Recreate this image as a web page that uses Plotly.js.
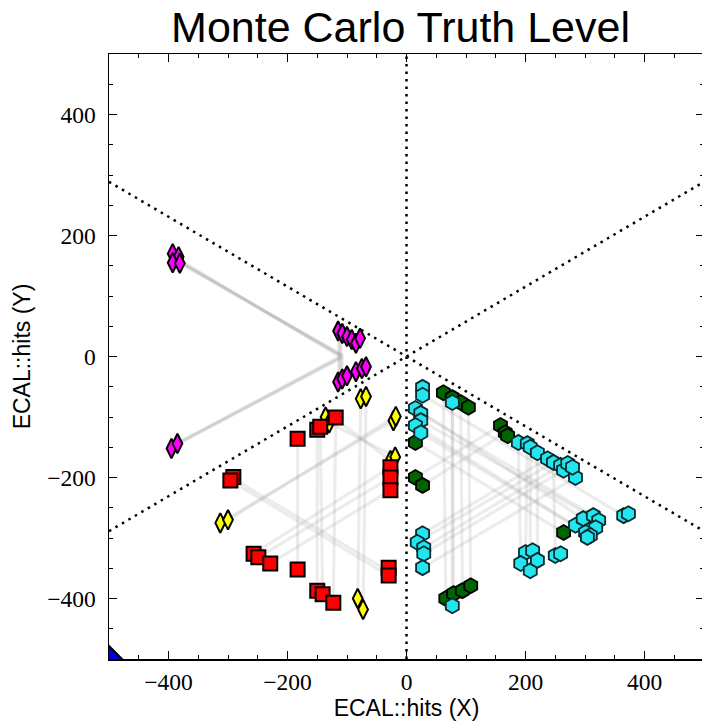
<!DOCTYPE html>
<html>
<head>
<meta charset="utf-8">
<script src="https://cdn.plot.ly/plotly-3.0.1.min.js"></script>
<style>
  html, body { margin: 0; padding: 0; overflow: hidden; background: #fff; }
  #chart { width: 704px; height: 722px; }
</style>
</head>
<body>
<div id="chart"></div>
<script>
// ---- hits per particle species (ECAL x / y positions) ----
const magentaX = [-393, -383, -393, -381, -395, -385, -115, -108, -100, -92, -85, -78, -115, -108, -100, -85, -75, -68];
const magentaY = [170, 165, 155, 154, -152, -144, 42, 38, 33, 28, 22, 30, -42, -37, -32, -25, -20, -17];

const yellowX = [-77, -68, -136, -130, -22, -18, -27, -19, -313, -300, -82, -73];
const yellowY = [-70, -66, -100, -110, -106, -99, -172, -166, -275, -270, -400, -418];

const redX = [-183, -150, -145, -119, -291, -296, -257, -249, -229, -183, -150, -141, -123, -27, -27, -27, -30, -30];
const redY = [-136, -121, -116, -101, -199, -205, -326, -332, -342, -352, -387, -393, -407, -183, -200, -221, -349, -362];

const cyanX = [27, 27, 15, 24, 24, 15, 24, 27, 18, 29, 29, 27,
               77, 77,
               188, 203, 208, 220, 237, 247, 259, 264, 284, 271, 279,
               365, 373,
               284, 297, 314, 323, 318, 301, 309, 304,
               200, 212, 192, 208, 220, 250, 259];
const cyanY = [-51, -64, -86, -94, -106, -114, -126, -293, -307, -316, -326, -349,
               -76, -412,
               -142, -144, -150, -159, -169, -175, -180, -188, -200, -177, -183,
               -263, -260,
               -279, -268, -263, -271, -283, -291, -296, -299,
               -324, -321, -342, -354, -337, -329, -326];

const greenX = [15, 15, 27, 62, 77, 91, 104, 66, 79, 94, 108, 158, 166, 170, 264];
const greenY = [-142, -200, -213, -60, -68, -76, -84, -400, -392, -387, -379, -114, -126, -131, -291];

const blueX = [-500];
const blueY = [-500];

// ---- truth-level trajectories (segments separated by null) ----
const magentaTrackX = [-390, -112, -112, null, -385, -110, -110, null, -392, -114, -114, null, -382, -108, -108, null,
                       -394, -112, -112, null, -386, -110, -110, null, -392, -114, -114, null];
const magentaTrackY = [162, 2, -38, null, 158, 3, -33, null, 166, 1, -42, null, 155, 2, -25, null,
                       -150, -2, 38, null, -144, -3, 33, null, -147, -1, 42, null];

const redTrackX = [-183, -183, null, -150, -150, null, -145, -141, null, -119, -123, null, -77, -82, null, -68, -73, null,
                   -291, -30, null, -296, -30, null, -313, -22, null, -300, -18, null,
                   -257, -27, null, -249, -27, null, -229, -27, null, -120, -27, null, -133, -19];
const redTrackY = [-136, -352, null, -121, -387, null, -116, -393, null, -101, -407, null, -70, -400, null, -66, -418, null,
                   -202, -355, null, -205, -362, null, -275, -106, null, -270, -99, null,
                   -326, -183, null, -332, -200, null, -342, -221, null, -103, -172, null, -108, -166];

const cyanTrackX = [62, 66, null, 77, 79, null, 91, 94, null, 104, 108, null, 77, 77, null,
                    203, 200, null, 208, 208, null, 220, 220, null, 247, 250, null, 188, 192, null,
                    15, 297, null, 24, 314, null, 24, 323, null, 15, 301, null, 24, 309, null, 27, 365, null,
                    27, 237, null, 18, 247, null, 29, 259, null, 29, 264, null, 27, 284, null,
                    15, 158, null, 27, 166, null, 15, 264];
const cyanTrackY = [-60, -400, null, -68, -392, null, -76, -387, null, -84, -379, null, -76, -412, null,
                    -144, -324, null, -150, -354, null, -159, -337, null, -175, -329, null, -142, -342, null,
                    -86, -268, null, -94, -263, null, -106, -271, null, -114, -291, null, -126, -296, null, -64, -263, null,
                    -293, -169, null, -307, -175, null, -316, -180, null, -326, -188, null, -349, -200, null,
                    -200, -114, null, -213, -126, null, -142, -291];

// ---- detector sector boundaries ----
const boundaryX = [-500, 500, null, -500, 500, null, 0, 0];
const boundaryY = [288.7, -288.7, null, -288.7, 288.7, null, -500, 500];

const tickVals = [-400, -200, 0, 200, 400];

const trackLine = { color: 'rgba(140,140,140,0.17)', width: 3.2 };
const edge = { color: '#000', width: 2 };

const traces = [
  { x: magentaTrackX, y: magentaTrackY, mode: 'lines', line: trackLine, hoverinfo: 'skip' },
  { x: redTrackX, y: redTrackY, mode: 'lines', line: trackLine, hoverinfo: 'skip' },
  { x: cyanTrackX, y: cyanTrackY, mode: 'lines', line: trackLine, hoverinfo: 'skip' },
  { x: boundaryX, y: boundaryY, mode: 'lines', line: { color: '#000', width: 2.5, dash: '2.5px,5px' }, hoverinfo: 'skip' },
  { x: magentaX, y: magentaY, mode: 'markers', marker: { symbol: 'diamond-tall', size: 14, color: '#ff00ff', line: edge } },
  { x: yellowX, y: yellowY, mode: 'markers', marker: { symbol: 'diamond-tall', size: 14, color: '#ffff00', line: edge } },
  { x: redX, y: redY, mode: 'markers', marker: { symbol: 'square', size: 14, color: '#ff0000', line: edge } },
  { x: greenX, y: greenY, mode: 'markers', marker: { symbol: 'hexagon', size: 15, color: '#006400', line: { color: '#000', width: 1.8 } } },
  { x: cyanX, y: cyanY, mode: 'markers', marker: { symbol: 'hexagon', size: 15, color: '#22e5ee', line: { color: '#0a2a30', width: 1.8 } } },
  { x: blueX, y: blueY, mode: 'markers', marker: { symbol: 'diamond', size: 20, color: '#0000dd', line: edge } }
];

const axisCommon = {
  range: [-500, 500],
  tickvals: tickVals,
  ticks: 'inside',
  ticklen: 8,
  tickwidth: 1.4,
  tickcolor: '#000',
  minor: { ticks: 'inside', dtick: 50, ticklen: 4, tickwidth: 1, tickcolor: '#000' },
  showline: true,
  linecolor: '#000',
  linewidth: 1.5,
  mirror: 'allticks',
  showgrid: false,
  zeroline: false,
  tickfont: { family: 'Liberation Serif, serif', size: 23.5, color: '#000' }
};

const titleFont = { family: 'Liberation Sans, Arial, sans-serif', size: 23, color: '#000' };

const layout = {
  width: 704,
  height: 722,
  margin: { l: 109, r: 0, t: 54, b: 63 },
  paper_bgcolor: '#fff',
  plot_bgcolor: '#fff',
  showlegend: false,
  title: {
    text: 'Monte Carlo Truth Level',
    font: { family: 'Liberation Sans, Arial, sans-serif', size: 43, color: '#000' },
    x: 0.49, xref: 'paper', xanchor: 'center',
    y: 0.962, yref: 'container', yanchor: 'middle'
  },
  xaxis: Object.assign({}, axisCommon, {
    ticklabelstandoff: 1,
    title: { text: 'ECAL::hits (X)', font: titleFont, standoff: 3 }
  }),
  yaxis: Object.assign({}, axisCommon, {
    ticklabelstandoff: 7,
    title: { text: 'ECAL::hits (Y)', font: titleFont, standoff: 10 }
  })
};

Plotly.newPlot('chart', traces, layout, { displayModeBar: false, staticPlot: true });
</script>
</body>
</html>
